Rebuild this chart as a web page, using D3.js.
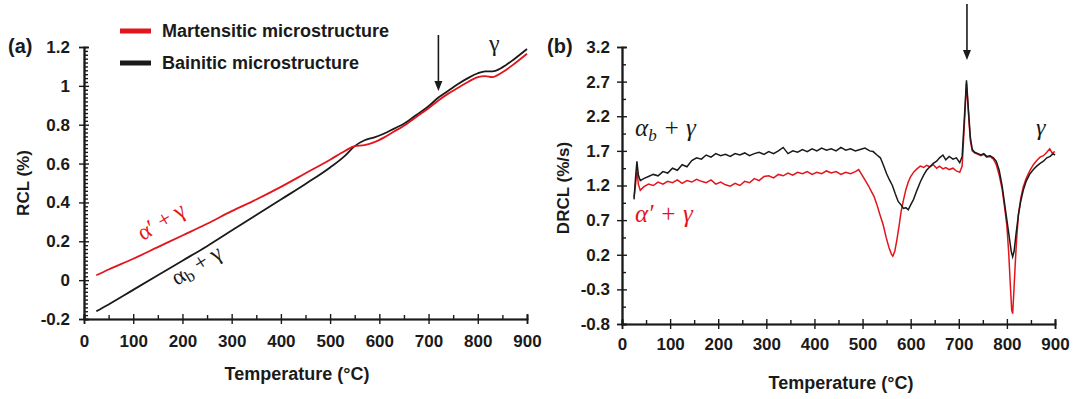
<!DOCTYPE html>
<html>
<head>
<meta charset="utf-8">
<script src="https://cdn.jsdelivr.net/npm/d3@7"></script>
<style>
  body { margin: 0; background: #fff; }
  svg { display: block; }
  text { font-family: "Liberation Sans", Arial, sans-serif; font-weight: bold; fill: #1a1a1a; }
  .greek { font-family: "Liberation Serif", "Times New Roman", serif; font-weight: normal; }
</style>
</head>
<body>
<svg id="chart" width="1074" height="399"></svg>
<script>
/** (a) relative change in length */
var rclTemp = [25, 50, 100, 150, 200, 250, 300, 350, 400, 450, 500, 530, 550, 570, 590, 610, 630, 650, 675, 700, 720, 740, 760, 780, 800, 815, 830, 850, 875, 900]
var rclMart = [0.025, 0.055, 0.11, 0.17, 0.23, 0.29, 0.355, 0.415, 0.48, 0.55, 0.62, 0.665, 0.69, 0.695, 0.71, 0.735, 0.765, 0.795, 0.84, 0.885, 0.925, 0.96, 0.99, 1.02, 1.045, 1.05, 1.045, 1.07, 1.115, 1.165]
var rclBain = [-0.16, -0.125, -0.05, 0.025, 0.10, 0.175, 0.255, 0.335, 0.415, 0.495, 0.58, 0.64, 0.69, 0.72, 0.735, 0.755, 0.78, 0.805, 0.85, 0.895, 0.94, 0.975, 1.01, 1.04, 1.065, 1.075, 1.075, 1.095, 1.14, 1.19]

/** (b) derivative, bainitic */
var drclBainTemp = [25, 28, 31, 34, 38, 45, 55, 65, 75, 85, 95, 105, 115, 125, 135, 145, 155, 165, 175, 185, 195, 205, 215, 225, 235, 245, 255, 265, 275, 285, 295, 305, 315, 325, 335, 345, 355, 365, 375, 385, 395, 405, 415, 425, 435, 445, 455, 465, 475, 485, 495, 505, 515, 522, 530, 537, 543, 550, 556, 562, 568, 574, 580, 585, 590, 595, 600, 606, 613, 620, 627, 633, 640, 647, 654, 660, 667, 673, 680, 688, 695, 702, 707, 711, 716, 720, 724, 728, 733, 740, 746, 752, 758, 765, 772, 778, 784, 790, 795, 800, 805, 809, 812, 815, 819, 824, 829, 834, 840, 848, 855, 862, 869, 876, 883, 890, 896, 900]
var drclBain = [1.00, 1.30, 1.55, 1.35, 1.27, 1.30, 1.33, 1.36, 1.34, 1.40, 1.38, 1.45, 1.42, 1.50, 1.47, 1.56, 1.60, 1.58, 1.64, 1.61, 1.66, 1.63, 1.65, 1.62, 1.66, 1.64, 1.67, 1.63, 1.66, 1.68, 1.65, 1.69, 1.66, 1.70, 1.75, 1.66, 1.70, 1.68, 1.72, 1.69, 1.73, 1.70, 1.74, 1.71, 1.73, 1.70, 1.75, 1.71, 1.73, 1.70, 1.72, 1.74, 1.70, 1.69, 1.64, 1.60, 1.50, 1.37, 1.28, 1.20, 1.08, 0.97, 0.92, 0.87, 0.88, 0.85, 0.92, 1.00, 1.13, 1.25, 1.35, 1.42, 1.47, 1.52, 1.55, 1.60, 1.64, 1.57, 1.62, 1.58, 1.60, 1.53, 1.62, 2.10, 2.72, 2.30, 1.90, 1.72, 1.68, 1.66, 1.64, 1.66, 1.62, 1.63, 1.60, 1.55, 1.42, 1.20, 0.95, 0.70, 0.45, 0.25, 0.17, 0.25, 0.50, 0.78, 0.98, 1.13, 1.26, 1.37, 1.43, 1.48, 1.52, 1.55, 1.60, 1.62, 1.66, 1.64]

/** (b) derivative, martensitic */
var drclMartTemp = [25, 28, 31, 34, 38, 45, 55, 65, 75, 85, 95, 105, 115, 125, 135, 145, 155, 165, 175, 185, 195, 205, 215, 225, 235, 245, 255, 265, 275, 285, 295, 305, 315, 325, 335, 345, 355, 365, 375, 385, 395, 405, 415, 425, 435, 445, 455, 465, 475, 485, 492, 498, 505, 512, 518, 524, 530, 536, 543, 549, 555, 560, 563, 567, 571, 576, 580, 585, 590, 595, 600, 607, 613, 620, 627, 633, 640, 647, 654, 660, 667, 673, 680, 688, 695, 702, 707, 711, 716, 720, 724, 728, 733, 740, 746, 752, 758, 765, 772, 778, 784, 790, 795, 800, 804, 807, 810, 812, 814, 817, 820, 824, 829, 834, 840, 848, 855, 862, 869, 876, 883, 889, 894, 900]
var drclMart = [1.03, 1.20, 1.42, 1.22, 1.13, 1.18, 1.22, 1.20, 1.25, 1.22, 1.26, 1.24, 1.28, 1.23, 1.27, 1.25, 1.29, 1.26, 1.24, 1.28, 1.22, 1.25, 1.21, 1.19, 1.23, 1.20, 1.26, 1.24, 1.30, 1.27, 1.33, 1.34, 1.31, 1.36, 1.34, 1.38, 1.35, 1.39, 1.37, 1.40, 1.36, 1.39, 1.37, 1.41, 1.38, 1.40, 1.36, 1.39, 1.37, 1.40, 1.43, 1.36, 1.28, 1.20, 1.12, 1.04, 0.92, 0.78, 0.63, 0.45, 0.30, 0.21, 0.18, 0.25, 0.40, 0.62, 0.82, 0.99, 1.14, 1.25, 1.33, 1.40, 1.44, 1.48, 1.46, 1.49, 1.47, 1.50, 1.45, 1.48, 1.44, 1.46, 1.43, 1.45, 1.41, 1.39, 1.48, 2.00, 2.68, 2.25, 1.85, 1.70, 1.67, 1.65, 1.63, 1.65, 1.61, 1.62, 1.58, 1.50, 1.35, 1.15, 0.90, 0.62, 0.20, -0.22, -0.60, -0.65, -0.40, 0.02, 0.40, 0.78, 1.02, 1.18, 1.30, 1.42, 1.50, 1.56, 1.61, 1.63, 1.68, 1.73, 1.67, 1.69]

var xTicks = [0, 100, 200, 300, 400, 500, 600, 700, 800, 900]
var xMinor = [50, 150, 250, 350, 450, 550, 650, 750, 850]
var rclTicks = [-0.2, 0, 0.2, 0.4, 0.6, 0.8, 1, 1.2]
var drclTicks = [-0.8, -0.3, 0.2, 0.7, 1.2, 1.7, 2.2, 2.7, 3.2]

var RED = '#e3141b', BLACK = '#1a1a1a'

var svg = d3.select('#chart')

var fmt = function (d) { return String(+d.toFixed(1)) }

function zip (t, v) { return t.map(function (d, i) { return [d, v[i]] }) }

/** draws frame axes for one panel */
function axes (g, x, y, yTicks, yMinor, opt) {
  var bottom = y.range()[0]
  var left = x.range()[0]

  g.append('g').attr('transform', 'translate(0,' + bottom + ')')
    .call(d3.axisBottom(x).tickValues(xTicks).tickSize(5).tickPadding(opt.xPad).tickFormat(d3.format('d')))
  g.append('g').attr('transform', 'translate(0,' + bottom + ')')
    .call(d3.axisBottom(x).tickValues(xTicks).tickSize(-5).tickFormat(''))
  g.append('g').attr('transform', 'translate(0,' + bottom + ')')
    .call(d3.axisBottom(x).tickValues(xMinor).tickSize(-4).tickFormat(''))

  g.append('g').attr('transform', 'translate(' + left + ',0)')
    .call(d3.axisLeft(y).tickValues(yTicks).tickSize(5).tickPadding(opt.yPad).tickFormat(fmt))
  g.append('g').attr('transform', 'translate(' + left + ',0)')
    .call(d3.axisLeft(y).tickValues(yTicks).tickSize(-5).tickFormat(''))
  g.append('g').attr('transform', 'translate(' + left + ',0)')
    .call(d3.axisLeft(y).tickValues(yMinor).tickSize(-4).tickFormat(''))

  g.selectAll('.domain').attr('stroke', BLACK).attr('stroke-width', 1.6)
  g.selectAll('.tick line').attr('stroke', BLACK).attr('stroke-width', 1.4)
  g.selectAll('.tick text').style('font-size', '17px').style('font-family', '"Liberation Sans", Arial, sans-serif').style('font-weight', 'bold').attr('fill', BLACK)
}

function arrow (g, x1, y1, y2) {
  g.append('line').attr('x1', x1).attr('y1', y1).attr('x2', x1).attr('y2', y2 - 8)
    .attr('stroke', BLACK).attr('stroke-width', 1.6)
  g.append('path').attr('d', 'M' + (x1 - 4) + ',' + (y2 - 10) + 'L' + (x1 + 4) + ',' + (y2 - 10) + 'L' + x1 + ',' + y2 + 'Z')
    .attr('fill', BLACK)
}

/** ---------- panel (a) ---------- */
var xA = d3.scaleLinear().domain([0, 900]).range([84, 527])
var yA = d3.scaleLinear().domain([-0.2, 1.2]).range([319, 47])
var gA = svg.append('g')

var rclMinor = d3.range(-20, 121, 2).map(function (d) { return d / 100 }).filter(function (d) { return rclTicks.indexOf(+d.toFixed(1)) < 0 || Math.abs(d * 10 - Math.round(d * 10)) > 0.01 })
axes(gA, xA, yA, rclTicks, rclMinor, {xPad: 11, yPad: 9})

var lineA = d3.line().x(function (d) { return xA(d[0]) }).y(function (d) { return yA(d[1]) }).curve(d3.curveMonotoneX)
gA.append('path').datum(zip(rclTemp, rclBain)).attr('d', lineA).attr('fill', 'none').attr('stroke', BLACK).attr('stroke-width', 1.8)
gA.append('path').datum(zip(rclTemp, rclMart)).attr('d', lineA).attr('fill', 'none').attr('stroke', RED).attr('stroke-width', 1.8)

gA.append('text').attr('x', 8).attr('y', 53).style('font-size', '20px').text('(a)')
gA.append('text').attr('transform', 'translate(29,183) rotate(-90)').attr('text-anchor', 'middle').style('font-size', '17px').text('RCL (%)')
gA.append('text').attr('x', 297).attr('y', 380).attr('text-anchor', 'middle').style('font-size', '18px').text('Temperature (°C)')

/** legend */
var legend = [['Martensitic microstructure', RED, 31], ['Bainitic microstructure', BLACK, 63]]
legend.forEach(function (l) {
  gA.append('line').attr('x1', 120).attr('x2', 151).attr('y1', l[2]).attr('y2', l[2]).attr('stroke', l[1]).attr('stroke-width', 5)
  gA.append('text').attr('x', 162).attr('y', l[2] + 6).style('font-size', '18px').text(l[0])
})

arrow(gA, xA(720), 35, 91)
gA.append('text').attr('class', 'greek').attr('x', 489).attr('y', 51).style('font-size', '24px').text('γ')

gA.append('text').attr('class', 'greek').attr('transform', 'translate(143,241) rotate(-31)')
  .style('font-size', '23px').attr('fill', RED).style('fill', RED).text('α′ + γ')
var ab = gA.append('text').attr('class', 'greek').attr('transform', 'translate(177,286) rotate(-32)')
  .style('font-size', '23px')
ab.append('tspan').text('α')
ab.append('tspan').attr('dy', 4).style('font-size', '17px').text('b')
ab.append('tspan').attr('dy', -4).text(' + γ')

/** ---------- panel (b) ---------- */
var xB = d3.scaleLinear().domain([0, 900]).range([622, 1055])
var yB = d3.scaleLinear().domain([-0.8, 3.2]).range([324, 47])
var gB = svg.append('g')

var drclMinor = [-0.55, -0.05, 0.45, 0.95, 1.45, 1.95, 2.45, 2.95]
axes(gB, xB, yB, drclTicks, drclMinor, {xPad: 9, yPad: 7})

var lineB = d3.line().x(function (d) { return xB(d[0]) }).y(function (d) { return yB(d[1]) })
gB.append('path').datum(zip(drclMartTemp, drclMart)).attr('d', lineB).attr('fill', 'none').attr('stroke', RED).attr('stroke-width', 1.5)
gB.append('path').datum(zip(drclBainTemp, drclBain)).attr('d', lineB).attr('fill', 'none').attr('stroke', BLACK).attr('stroke-width', 1.5)

gB.append('text').attr('x', 547).attr('y', 53).style('font-size', '20px').text('(b)')
gB.append('text').attr('transform', 'translate(569,188) rotate(-90)').attr('text-anchor', 'middle').style('font-size', '17px').text('DRCL (%/s)')
gB.append('text').attr('x', 841).attr('y', 389).attr('text-anchor', 'middle').style('font-size', '18px').text('Temperature (°C)')

arrow(gB, xB(717), 4, 60)
gB.append('text').attr('class', 'greek').attr('x', 1036).attr('y', 135).style('font-size', '24px').style('font-style', 'italic').text('γ')

var bb = gB.append('text').attr('class', 'greek').attr('x', 635).attr('y', 136).style('font-size', '25px').style('font-style', 'italic')
bb.append('tspan').text('α')
bb.append('tspan').attr('dy', 5).style('font-size', '17px').text('b')
bb.append('tspan').attr('dy', -5).text(' + γ')
gB.append('text').attr('class', 'greek').attr('x', 635).attr('y', 222).style('font-size', '25px').style('font-style', 'italic').style('fill', RED).text('α′ + γ')
</script>
</body>
</html>
